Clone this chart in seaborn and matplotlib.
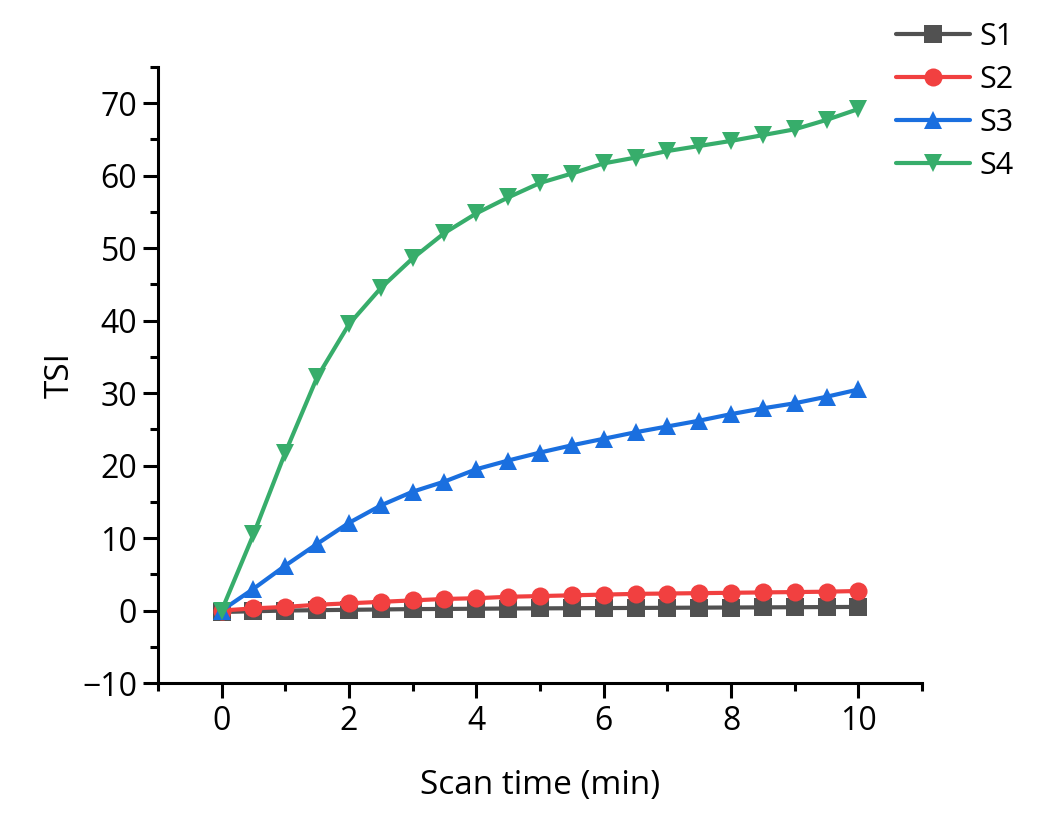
import numpy as np
import pandas as pd
import matplotlib
matplotlib.use("Agg")
import matplotlib.pyplot as plt
from matplotlib.ticker import MultipleLocator
import seaborn as sns

scan_time = [0, 0.5, 1, 1.5, 2, 2.5, 3, 3.5, 4, 4.5, 5, 5.5, 6, 6.5, 7, 7.5, 8, 8.5, 9, 9.5, 10]
s1 = [-0.2, -0.1, 0.0, 0.05, 0.1, 0.15, 0.2, 0.22, 0.25, 0.28, 0.3, 0.32, 0.34, 0.36, 0.38, 0.4, 0.42, 0.44, 0.46, 0.48, 0.5]
s2 = [0.0, 0.3, 0.5, 0.8, 1.0, 1.2, 1.4, 1.6, 1.7, 1.9, 2.0, 2.1, 2.2, 2.3, 2.35, 2.4, 2.45, 2.5, 2.55, 2.6, 2.7]
s3 = [0.0, 3.0, 6.2, 9.2, 12.1, 14.5, 16.4, 17.8, 19.5, 20.7, 21.8, 22.8, 23.7, 24.6, 25.4, 26.2, 27.1, 27.9, 28.6, 29.5, 30.5]
s4 = [0.0, 10.5, 21.8, 32.2, 39.5, 44.5, 48.6, 52.1, 54.8, 57.0, 59.0, 60.3, 61.7, 62.5, 63.4, 64.1, 64.8, 65.6, 66.4, 67.7, 69.2]

names = ["S1", "S2", "S3", "S4"]
colors = {"S1": "#515151", "S2": "#F14040", "S3": "#1A6FDF", "S4": "#37AD6B"}
markers = {"S1": "s", "S2": "o", "S3": "^", "S4": "v"}

df = pd.DataFrame({
    "time": scan_time * 4,
    "TSI": s1 + s2 + s3 + s4,
    "series": [n for n in names for _ in scan_time],
})

sns.set_style("ticks")
plt.rcParams["font.family"] = ["Open Sans", "DejaVu Sans"]
plt.rcParams["text.color"] = "black"
plt.rcParams["axes.labelcolor"] = "black"

fig = plt.figure(figsize=(10.63, 8.26), dpi=100)
ax = fig.add_axes([0.1486, 0.1731, 0.7188, 0.7458])

sns.lineplot(data=df, x="time", y="TSI", hue="series", style="series",
             markers=markers, dashes=False, palette=colors, linewidth=3.0,
             markersize=13, markeredgewidth=0, ax=ax)

ax.set_xlim(-1, 11)
ax.set_ylim(-10, 75)
ax.xaxis.set_major_locator(MultipleLocator(2))
ax.xaxis.set_minor_locator(MultipleLocator(1))
ax.yaxis.set_minor_locator(MultipleLocator(5))
ax.set_yticks(np.arange(-10, 71, 10))
ax.set_yticklabels(["\u221210"] + [str(v) for v in range(0, 71, 10)])

for s in ["top", "right"]:
    ax.spines[s].set_visible(False)
for s in ["left", "bottom"]:
    ax.spines[s].set_linewidth(2.2)
    ax.spines[s].set_color("black")
ax.tick_params(which="major", length=11, width=2.2, direction="out", labelsize=23, colors="black")
ax.tick_params(which="minor", length=6, width=2.2, direction="out", colors="black")
ax.tick_params(axis="x", pad=5)
ax.tick_params(axis="y", pad=4)

ax.set_xlabel("Scan time (min)", fontsize=24, labelpad=22, color="black")
ax.set_ylabel("TSI", fontsize=24, labelpad=4, color="black")

leg = ax.legend(loc="upper left", bbox_to_anchor=(0.831, 0.988), bbox_transform=fig.transFigure,
                frameon=False, fontsize=22, handlelength=2.45, labelspacing=0.42,
                handletextpad=0.28, borderaxespad=0)
for t in leg.get_texts():
    t.set_color("black")

fig.savefig("out.png", dpi=100)
